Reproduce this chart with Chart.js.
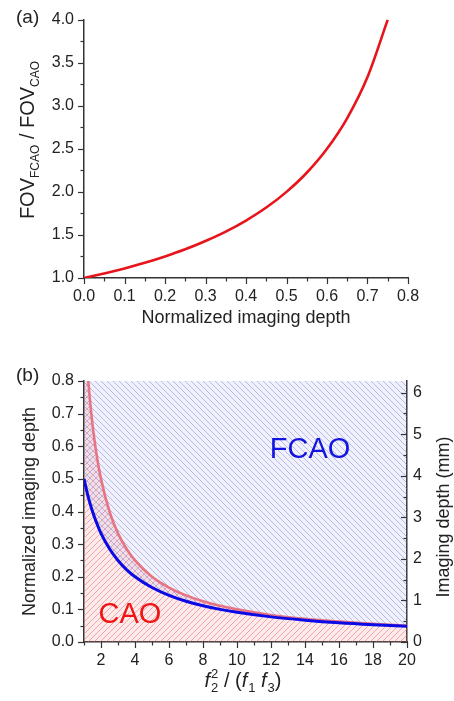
<!DOCTYPE html>
<html>
<head>
<meta charset="utf-8">
<script src="https://cdn.jsdelivr.net/npm/chart.js@4.4.0/dist/chart.umd.min.js"></script>
<style>
  html, body { margin: 0; padding: 0; background: #fff; }
  canvas { display: block; }
  #wrapA { position: absolute; left: 0; top: 0; width: 454px; height: 340px; }
  #wrapB { position: absolute; left: 0; top: 340px; width: 454px; height: 361px; }
</style>
</head>
<body>
<div id="wrapA"><canvas id="chartA" width="454" height="340"></canvas></div>
<div id="wrapB"><canvas id="chartB" width="454" height="361"></canvas></div>
<script>
// (a) FOV ratio against normalized imaging depth
const depthA = [0, 0.05, 0.1, 0.15, 0.2, 0.25, 0.3, 0.35, 0.4, 0.45, 0.5, 0.55, 0.6, 0.65, 0.7, 0.75];
const ratioA = [1.0, 1.053, 1.111, 1.176, 1.25, 1.333, 1.429, 1.538, 1.667, 1.818, 2.0, 2.222, 2.5, 2.857, 3.333, 4.0];
const xTicksA = [0, 0.1, 0.2, 0.3, 0.4, 0.5, 0.6, 0.7, 0.8];
const yTicksA = [1, 1.5, 2, 2.5, 3, 3.5, 4];

// (b) CAO / FCAO boundaries against f2^2/(f1 f3)
const fRed = [1, 1.1, 1.2, 1.25, 1.5, 1.75, 2, 2.5, 3, 3.5, 4, 5, 6, 7, 8, 9, 10, 12, 14, 16, 18, 20];
const depthRed = [1.0, 0.909, 0.833, 0.8, 0.667, 0.571, 0.5, 0.4, 0.333, 0.286, 0.25, 0.2, 0.167, 0.143, 0.125, 0.111, 0.1, 0.083, 0.071, 0.0625, 0.056, 0.05];
const fBlue = [1, 1.25, 1.5, 1.75, 2, 2.5, 3, 3.5, 4, 5, 6, 7, 8, 9, 10, 12, 14, 16, 18, 20];
const depthBlue = [0.5, 0.444, 0.4, 0.364, 0.333, 0.286, 0.25, 0.222, 0.2, 0.167, 0.143, 0.125, 0.111, 0.1, 0.091, 0.077, 0.067, 0.059, 0.053, 0.048];
const xTicksB = [2, 4, 6, 8, 10, 12, 14, 16, 18, 20];
const yTicksB = [0, 0.1, 0.2, 0.3, 0.4, 0.5, 0.6, 0.7, 0.8];
const mmTicksB = [0, 1, 2, 3, 4, 5, 6];
const mmMax = 6.28;

const FONT = "'Liberation Sans', Arial, sans-serif";
Chart.defaults.font.family = FONT;
Chart.defaults.color = '#222';

const AXIS = '#333';

function midpoints(vals, lo, hi) {
  const step = vals[1] - vals[0];
  const out = [];
  for (let v = vals[0] - step / 2; v <= hi + 1e-9; v += step) {
    if (v >= lo - 1e-9) out.push(v);
  }
  return out;
}

// major + minor tick marks drawn on the library scales
function tickPlugin(specs) {
  return {
    id: 'tickMarks',
    afterDraw(chart) {
      const ctx = chart.ctx;
      const a = chart.chartArea;
      ctx.save();
      ctx.strokeStyle = AXIS;
      ctx.lineWidth = 1.2;
      specs.forEach(s => {
        const sc = chart.scales[s.id];
        const marks = s.major.map(v => [v, 6]).concat(s.minor.map(v => [v, 3.5]));
        marks.forEach(([v, len]) => {
          const p = Math.round(sc.getPixelForValue(v)) + 0.5;
          ctx.beginPath();
          if (s.side === 'bottom') { ctx.moveTo(p, a.bottom); ctx.lineTo(p, a.bottom + len); }
          if (s.side === 'left') { ctx.moveTo(a.left, p); ctx.lineTo(a.left - len, p); }
          if (s.side === 'rightIn') { ctx.moveTo(a.right, p); ctx.lineTo(a.right - len, p); }
          ctx.stroke();
        });
      });
      ctx.restore();
    }
  };
}

// text with sub / superscripts
function drawRich(ctx, parts, x, y, rot) {
  ctx.save();
  ctx.translate(x, y);
  if (rot) ctx.rotate(rot);
  ctx.textBaseline = 'alphabetic';
  ctx.textAlign = 'left';
  let w = 0;
  parts.forEach(p => {
    ctx.font = (p.italic ? 'italic ' : '') + p.size + 'px ' + FONT;
    if (!p.stack) w += ctx.measureText(p.t).width + (p.dx || 0);
  });
  let cx = -w / 2;
  parts.forEach(p => {
    ctx.font = (p.italic ? 'italic ' : '') + p.size + 'px ' + FONT;
    ctx.fillStyle = p.color || '#222';
    ctx.fillText(p.t, cx + (p.dx || 0), p.dy || 0);
    if (!p.stack) cx += ctx.measureText(p.t).width + (p.dx || 0);
  });
  ctx.restore();
}

// diagonal hatch tile with a faint tint underneath
function hatch(ctx, tint, color, dir) {
  const s = 6;
  const c = document.createElement('canvas');
  c.width = s; c.height = s;
  const g = c.getContext('2d');
  g.fillStyle = tint;
  g.fillRect(0, 0, s, s);
  g.strokeStyle = color;
  g.lineWidth = 1;
  g.beginPath();
  if (dir > 0) {
    g.moveTo(-1, s + 1); g.lineTo(s + 1, -1);
    g.moveTo(-1, 1); g.lineTo(1, -1);
    g.moveTo(s - 1, s + 1); g.lineTo(s + 1, s - 1);
  } else {
    g.moveTo(-1, -1); g.lineTo(s + 1, s + 1);
    g.moveTo(-1, s - 1); g.lineTo(1, s + 1);
    g.moveTo(s - 1, -1); g.lineTo(s + 1, 1);
  }
  g.stroke();
  return ctx.createPattern(c, 'repeat');
}

// ---------- chart (a) ----------
const ctxA = document.getElementById('chartA').getContext('2d');
new Chart(ctxA, {
  type: 'line',
  data: {
    datasets: [{
      data: depthA.map((d, i) => ({ x: d, y: ratioA[i] })),
      borderColor: '#e8141c',
      borderWidth: 2.6,
      pointRadius: 0,
      cubicInterpolationMode: 'monotone',
      fill: false
    }]
  },
  options: {
    responsive: false,
    animation: false,
    layout: { padding: { left: 0, top: 18, right: 46, bottom: 7 } },
    plugins: { legend: { display: false }, tooltip: { enabled: false } },
    scales: {
      x: {
        type: 'linear', min: 0, max: 0.8,
        afterBuildTicks: s => { s.ticks = xTicksA.map(v => ({ value: v })); },
        afterFit: s => { s.height = 55; },
        ticks: { padding: 9, font: { size: 16 }, maxRotation: 0, autoSkip: false, callback: v => v.toFixed(1) },
        grid: { display: false, drawTicks: false },
        border: { color: AXIS, width: 1.5 },
        title: { display: true, text: 'Normalized imaging depth', font: { size: 18 }, color: '#222', padding: { top: 4, bottom: 4 } }
      },
      y: {
        type: 'linear', min: 1, max: 4,
        afterBuildTicks: s => { s.ticks = yTicksA.map(v => ({ value: v })); },
        afterFit: s => { s.width = 84; },
        ticks: { padding: 10, font: { size: 16 }, autoSkip: false, callback: v => v.toFixed(1) },
        grid: { display: false, drawTicks: false },
        border: { color: AXIS, width: 1.5 }
      }
    }
  },
  plugins: [
    tickPlugin([
      { id: 'x', side: 'bottom', major: xTicksA, minor: midpoints(xTicksA, 0, 0.8) },
      { id: 'y', side: 'left', major: yTicksA, minor: midpoints(yTicksA, 1, 4) }
    ]),
    {
      id: 'textA',
      afterDraw(chart) {
        const ctx = chart.ctx;
        ctx.save();
        ctx.font = '19px ' + FONT;
        ctx.fillStyle = '#222';
        ctx.textBaseline = 'middle';
        ctx.textAlign = 'left';
        ctx.fillText('(a)', 16, 18);
        ctx.restore();
        drawRich(ctx, [
          { t: 'FOV', size: 20 },
          { t: 'FCAO', size: 12, dy: 5 },
          { t: ' / FOV', size: 20 },
          { t: 'CAO', size: 12, dy: 5 }
        ], 34, 140, -Math.PI / 2);
      }
    }
  ]
});

// ---------- chart (b) ----------
const ctxB = document.getElementById('chartB').getContext('2d');
const redHatch = hatch(ctxB, 'rgba(245,130,130,0.16)', 'rgba(238,95,100,0.5)', 1);
const blueHatch = hatch(ctxB, 'rgba(130,140,225,0.12)', 'rgba(105,115,215,0.42)', -1);

new Chart(ctxB, {
  type: 'line',
  data: {
    datasets: [
      {
        label: 'FCAO',
        data: fBlue.map((f, i) => ({ x: f, y: depthBlue[i] })),
        borderColor: '#0a0ae6',
        borderWidth: 3,
        pointRadius: 0,
        cubicInterpolationMode: 'monotone',
        fill: 'end',
        backgroundColor: blueHatch
      },
      {
        label: 'CAO',
        data: fRed.map((f, i) => ({ x: f, y: depthRed[i] })),
        borderColor: 'rgba(232,105,120,0.9)',
        borderWidth: 2.6,
        pointRadius: 0,
        cubicInterpolationMode: 'monotone',
        fill: 'origin',
        backgroundColor: redHatch
      }
    ]
  },
  options: {
    responsive: false,
    animation: false,
    layout: { padding: { left: 15, top: 41, right: 0, bottom: 0 } },
    plugins: {
      legend: { display: false },
      tooltip: { enabled: false },
      filler: { drawTime: 'beforeDatasetsDraw' }
    },
    scales: {
      x: {
        type: 'linear', min: 1, max: 20,
        afterBuildTicks: s => { s.ticks = xTicksB.map(v => ({ value: v })); },
        afterFit: s => { s.height = 59; },
        ticks: { padding: 9, font: { size: 16 }, maxRotation: 0, autoSkip: false },
        grid: { display: false, drawTicks: false },
        border: { color: AXIS, width: 1.5 }
      },
      y: {
        type: 'linear', min: 0, max: 0.8,
        afterBuildTicks: s => { s.ticks = yTicksB.map(v => ({ value: v })); },
        afterFit: s => { s.width = 69; },
        ticks: { padding: 10, font: { size: 16 }, autoSkip: false, callback: v => v.toFixed(1) },
        grid: { display: false, drawTicks: false },
        border: { color: AXIS, width: 1.5 },
        title: { display: true, text: 'Normalized imaging depth', font: { size: 18 }, color: '#222', padding: { top: 4, bottom: 4 } }
      },
      y2: {
        type: 'linear', position: 'right', min: 0, max: mmMax,
        afterBuildTicks: s => { s.ticks = mmTicksB.map(v => ({ value: v })); },
        afterFit: s => { s.width = 47; },
        ticks: { padding: 6, font: { size: 16 }, autoSkip: false },
        grid: { display: false, drawTicks: false },
        border: { color: AXIS, width: 1.5 }
      }
    }
  },
  plugins: [
    tickPlugin([
      { id: 'x', side: 'bottom', major: xTicksB, minor: midpoints(xTicksB, 1, 20) },
      { id: 'y', side: 'left', major: yTicksB, minor: midpoints(yTicksB, 0, 0.8) },
      { id: 'y2', side: 'rightIn', major: mmTicksB, minor: midpoints(mmTicksB, 0, mmMax) }
    ]),
    {
      id: 'textB',
      afterDraw(chart) {
        const ctx = chart.ctx;
        const xs = chart.scales.x, ys = chart.scales.y;
        ctx.save();
        ctx.font = '19px ' + FONT;
        ctx.fillStyle = '#222';
        ctx.textBaseline = 'middle';
        ctx.textAlign = 'left';
        ctx.fillText('(b)', 16, 36);
        ctx.textAlign = 'center';
        ctx.font = '29px ' + FONT;
        ctx.fillStyle = '#1414e0';
        ctx.fillText('FCAO', xs.getPixelForValue(14.3), ys.getPixelForValue(0.588));
        ctx.fillStyle = '#f01414';
        ctx.fillText('CAO', xs.getPixelForValue(3.7), ys.getPixelForValue(0.083));
        ctx.restore();
        // right axis title, reading bottom to top
        drawRich(ctx, [{ t: 'Imaging depth (mm)', size: 18 }], 449, 177, -Math.PI / 2);
        // x axis title f2^2 / (f1 f3)
        drawRich(ctx, [
          { t: 'f', size: 20, italic: true },
          { t: '2', size: 13, dy: -9, dx: 1, stack: true },
          { t: '2', size: 13, dy: 5, dx: 1 },
          { t: ' / (', size: 20 },
          { t: 'f', size: 20, italic: true },
          { t: '1', size: 13, dy: 5, dx: 1 },
          { t: ' ', size: 20 },
          { t: 'f', size: 20, italic: true },
          { t: '3', size: 13, dy: 5, dx: 1 },
          { t: ')', size: 20 }
        ], 243, 347, 0);
      }
    }
  ]
});
</script>
</body>
</html>
